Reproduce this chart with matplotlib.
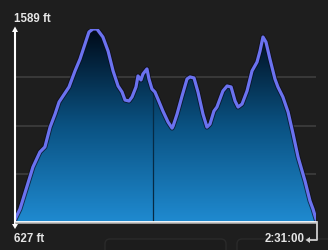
import numpy as np
import matplotlib
matplotlib.use("Agg")
import matplotlib.pyplot as plt
from matplotlib.colors import LinearSegmentedColormap
from matplotlib.patches import Polygon, FancyBboxPatch
import matplotlib.patheffects as pe

# ---- data (minutes, feet) ----
minutes = [0, 2.5, 5.9, 9.0, 12.5, 15.0, 17.6, 20.1, 22.1, 24.1, 27.1, 30.1, 32.6, 35.1,
           37.1, 39.1, 41.1, 44.1, 46.7, 49.2, 51.7, 53.7, 55.2, 57.2, 58.7, 60.7, 61.7,
           63.2, 64.2, 66.2, 67.2, 68.7, 70.2, 71.7, 74.2, 76.8, 78.8, 79.3, 81.3, 83.8,
           86.3, 87.8, 89.8, 91.8, 94.3, 96.3, 97.8, 99.8, 101.3, 104.3, 106.4, 108.4,
           110.4, 111.9, 113.9, 116.4, 118.9, 121.4, 122.9, 124.4, 125.9, 127.9, 130.4,
           131.9, 134.4, 137.0, 139.5, 142.0, 145.5, 148.0, 149.5, 151.0]
elevation = [640, 692, 801, 901, 976, 1001, 1100, 1165, 1225, 1255, 1300, 1380, 1439, 1514,
             1574, 1589, 1589, 1549, 1479, 1380, 1305, 1275, 1235, 1230, 1250, 1300, 1355,
             1335, 1365, 1390, 1340, 1290, 1275, 1240, 1180, 1125, 1095, 1105, 1165, 1255,
             1340, 1350, 1345, 1275, 1165, 1100, 1115, 1180, 1200, 1280, 1305, 1300,
             1230, 1200, 1215, 1280, 1380, 1424, 1479, 1549, 1524, 1439, 1340,
             1300, 1250, 1175, 1066, 951, 831, 732, 692, 642]
y_min, y_max = 627, 1589
duration_min = 151
marker_minute = 69
y_labels = ["627 ft", "1589 ft"]
x_label = "2:31:00"

W, H = 328, 251
BG = "#1e1e1e"
fig = plt.figure(figsize=(W / 100, H / 100), dpi=100, facecolor=BG)

# overlay (pixel coords) for decorations
ov = fig.add_axes([0, 0, 1, 1], zorder=0)
ov.set_xlim(0, W); ov.set_ylim(H, 0); ov.axis("off")
ov.set_facecolor(BG)
for (x0, x1) in [(105, 226), (237, 340)]:
    ov.add_patch(FancyBboxPatch((x0, 240), x1 - x0, 20, boxstyle="round,pad=0,rounding_size=5",
                                fc="#1c1c1c", ec="#2a2a2a", lw=1.0))

left, right, top, bottom = 15, 316, 30, 223
ax = fig.add_axes([left / W, (H - bottom) / H, (right - left) / W, (bottom - top) / H], zorder=1)
ax.set_facecolor("none")
ax.set_xlim(0, duration_min)
ax.set_ylim(y_min, y_max)
for s in ax.spines.values():
    s.set_visible(False)
ax.set_xticks([]); ax.set_yticks([])

# gridlines
for k in (1, 2, 3):
    ax.axhline(y_min + (y_max - y_min) * k / 4, color="#3b3b3b", lw=1.3, zorder=0.5)

x = np.array(minutes, float)
e = np.array(elevation, float)

# gradient fill
cmap = LinearSegmentedColormap.from_list("g", [(0, "#1f8ad0"), (0.5, "#0a5282"), (1.0, "#000a18")])
grad = np.linspace(0, 1, 256).reshape(-1, 1)
im = ax.imshow(grad, cmap=cmap, origin="lower", aspect="auto",
               extent=[0, duration_min, y_min, y_max], zorder=1)
poly = Polygon(np.column_stack([np.r_[x[0], x, x[-1]], np.r_[y_min, e, y_min]]),
               closed=True, fc="none", ec="none")
ax.add_patch(poly)
im.set_clip_path(poly)

# marker line
ax.plot([marker_minute, marker_minute], [y_min, np.interp(marker_minute, x, e)],
        color="#062a44", lw=0.9, zorder=2)

# profile line
ax.plot(x, e, color="#6b72f0", lw=2.3, zorder=3, solid_joinstyle="round",
        path_effects=[pe.Stroke(linewidth=3.6, foreground="#0b0b1a", alpha=0.7), pe.Normal()])

# axes decorations (pixel coords)
ov2 = fig.add_axes([0, 0, 1, 1], zorder=2)
ov2.set_xlim(0, W); ov2.set_ylim(H, 0); ov2.axis("off"); ov2.patch.set_visible(False)
ov2.plot([15, 15], [31, 226], color="white", lw=1.5, solid_capstyle="butt")
ov2.add_patch(Polygon([[12, 33], [18, 33], [15, 27.5]], closed=True, fc="white", ec="none"))
ov2.add_patch(Polygon([[12, 225], [18, 225], [15, 230]], closed=True, fc="white", ec="none"))
ov2.plot([15, 317], [222.6, 222.6], color="white", lw=1.3, solid_capstyle="butt")
ov2.plot([15, 317], [224.3, 224.3], color="#bdbdbd", lw=1.1, solid_capstyle="butt")
ov2.plot([316.5, 316.5, 309], [223, 241, 241], color="#cfcfcf", lw=1.3)
ov2.add_patch(Polygon([[310, 238], [310, 244], [305.5, 241]], closed=True, fc="#cfcfcf", ec="none"))

txt_kw = dict(color="#e6e6e6", fontsize=8.3, fontweight="bold", family="Liberation Sans",
              va="center")
ov2.text(14, 18.5, y_labels[1], ha="left", **txt_kw)
ov2.text(14, 239.5, y_labels[0], ha="left", **txt_kw)
ov2.text(305, 239.5, x_label, ha="right", **txt_kw)

fig.savefig("out.png", dpi=100, facecolor=BG)
